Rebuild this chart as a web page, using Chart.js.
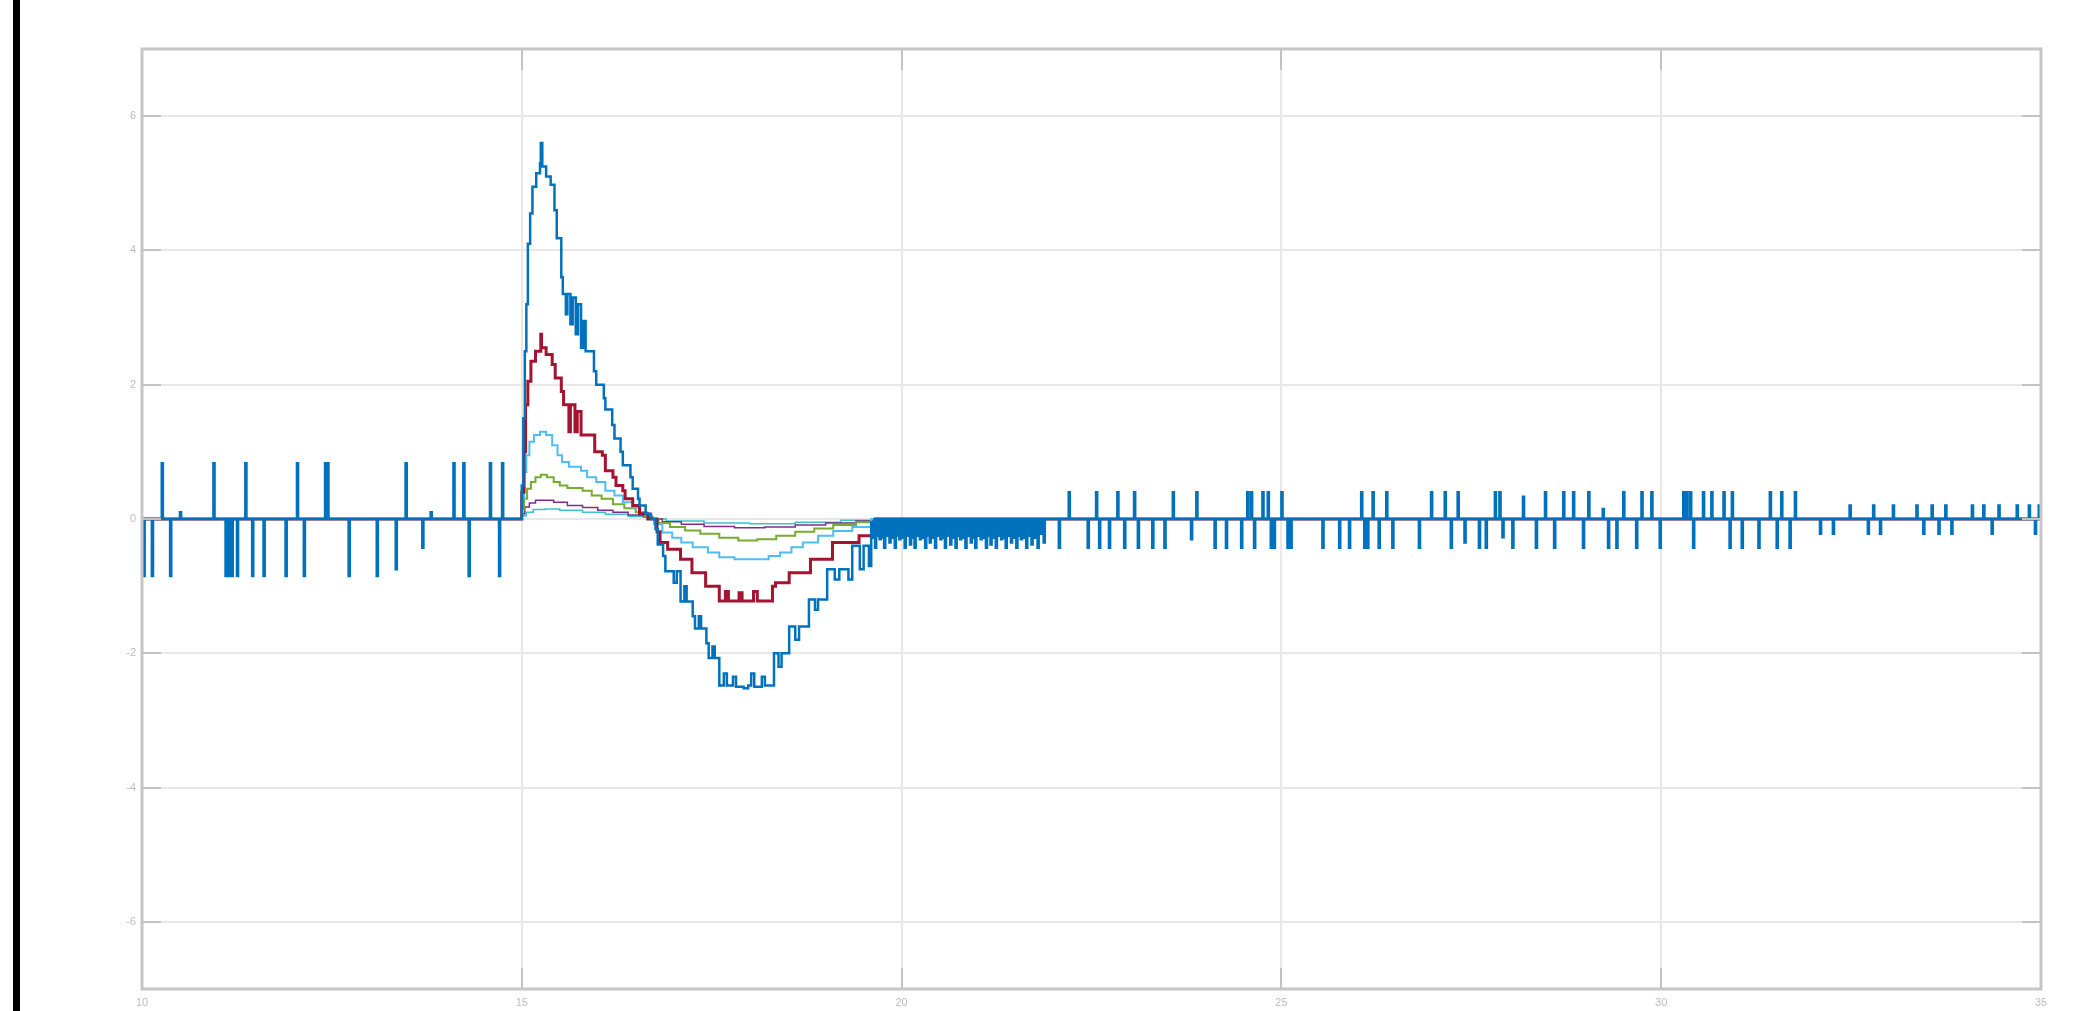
<!DOCTYPE html>
<html>
<head>
<meta charset="utf-8">
<title>Pulse response</title>
<script src="https://cdn.jsdelivr.net/npm/chart.js@4.4.1/dist/chart.umd.min.js"></script>
<style>
  html, body { margin: 0; padding: 0; background: #ffffff; overflow: hidden; }
  #wrap { position: relative; width: 2081px; height: 1011px; }
  #plot { position: absolute; left: 0; top: 0; }
  #edge { position: absolute; left: 13px; top: 0; width: 7px; height: 1011px; background: #000; }
</style>
</head>
<body>
<div id="wrap">
  <canvas id="plot" width="2081" height="1011"></canvas>
  <div id="edge"></div>
</div>
<script>
// Axis ticks
const xTickValues = [10, 15, 20, 25, 30, 35];
const yTickValues = [-6, -4, -2, 0, 2, 4, 6];

// Main response (stepped samples, [time, value])
const bluePulse = [
  [15.00, 0.5], [15.02, 1.5], [15.04, 2.5], [15.06, 3.2], [15.08, 4.1], [15.11, 4.55],
  [15.14, 4.95], [15.19, 5.15], [15.24, 5.3], [15.25, 5.6], [15.27, 5.25], [15.32, 5.1],
  [15.38, 4.98], [15.43, 4.6], [15.46, 4.18], [15.52, 3.6], [15.54, 3.35], [15.58, 3.05],
  [15.60, 3.35], [15.64, 2.9], [15.67, 3.3], [15.71, 2.75], [15.74, 3.2], [15.78, 2.55],
  [15.81, 2.95], [15.84, 2.5], [15.95, 2.2], [15.98, 2.0], [16.08, 1.8], [16.10, 1.63],
  [16.19, 1.4], [16.22, 1.2], [16.30, 1.0], [16.33, 0.8], [16.43, 0.62], [16.46, 0.45],
  [16.53, 0.3], [16.55, 0.2], [16.63, 0.08], [16.70, 0.0], [16.76, -0.15], [16.79, -0.38],
  [16.86, -0.55], [16.89, -0.78], [17.00, -0.95], [17.04, -0.78], [17.09, -1.23], [17.14, -1.0],
  [17.17, -1.23], [17.25, -1.45], [17.28, -1.63], [17.33, -1.45], [17.36, -1.63], [17.43, -1.85],
  [17.46, -2.07], [17.51, -1.9], [17.54, -2.07], [17.60, -2.48], [17.66, -2.3], [17.70, -2.48],
  [17.78, -2.35], [17.82, -2.5], [17.92, -2.52], [17.98, -2.48], [18.02, -2.3], [18.06, -2.5],
  [18.16, -2.35], [18.20, -2.48], [18.32, -2.0], [18.38, -2.2], [18.42, -2.0], [18.52, -1.6],
  [18.60, -1.8], [18.65, -1.6], [18.78, -1.2], [18.86, -1.35], [18.90, -1.2], [19.02, -0.75],
  [19.12, -0.9], [19.18, -0.75], [19.30, -0.9], [19.35, -0.4], [19.45, -0.75], [19.50, -0.4],
  [19.57, -0.7], [19.60, -0.05]
];

// Sensor glitches on the main response ([time, height])
const blueSpikes = [
  [10.02, -0.85], [10.13, -0.85], [10.26, 0.83], [10.37, -0.85], [10.50, 0.1], [10.94, 0.83],
  [11.10, -0.85], [11.14, -0.85], [11.18, -0.85], [11.25, -0.85], [11.36, 0.83], [11.45, -0.85],
  [11.60, -0.85], [11.89, -0.85], [12.04, 0.83], [12.13, -0.85], [12.41, 0.83], [12.44, 0.83],
  [12.72, -0.85], [13.09, -0.85], [13.34, -0.75], [13.47, 0.83], [13.69, -0.43], [13.80, 0.1],
  [14.10, 0.83], [14.23, 0.83], [14.30, -0.85], [14.58, 0.83], [14.70, -0.85], [14.74, 0.83],
  [19.63, -0.28], [19.65, -0.43], [19.68, -0.25], [19.71, -0.3], [19.74, -0.28], [19.77, -0.43],
  [19.80, -0.25], [19.84, -0.35], [19.87, -0.28], [19.91, -0.43], [19.94, -0.25], [19.97, -0.3],
  [20.01, -0.28], [20.04, -0.43], [20.07, -0.25], [20.11, -0.38], [20.14, -0.28], [20.17, -0.43],
  [20.21, -0.25], [20.24, -0.3], [20.27, -0.28], [20.31, -0.43], [20.34, -0.25], [20.37, -0.35],
  [20.41, -0.28], [20.44, -0.43], [20.47, -0.25], [20.51, -0.3], [20.54, -0.28], [20.57, -0.43],
  [20.61, -0.25], [20.64, -0.38], [20.67, -0.28], [20.71, -0.43], [20.74, -0.25], [20.77, -0.3],
  [20.81, -0.28], [20.84, -0.43], [20.87, -0.25], [20.91, -0.35], [20.94, -0.28], [20.97, -0.43],
  [21.01, -0.25], [21.04, -0.3], [21.07, -0.28], [21.11, -0.43], [21.14, -0.25], [21.17, -0.38],
  [21.21, -0.28], [21.24, -0.43], [21.27, -0.25], [21.31, -0.3], [21.34, -0.28], [21.37, -0.43],
  [21.41, -0.25], [21.44, -0.35], [21.47, -0.28], [21.51, -0.43], [21.54, -0.25], [21.57, -0.3],
  [21.61, -0.28], [21.64, -0.43], [21.68, -0.25], [21.71, -0.38], [21.75, -0.28], [21.79, -0.43],
  [21.83, -0.22], [21.87, -0.35],
  [22.07, -0.43], [22.20, 0.4], [22.45, -0.43], [22.56, 0.4], [22.60, -0.43], [22.73, -0.43],
  [22.84, 0.4], [22.93, -0.43], [23.06, 0.4], [23.11, -0.43], [23.30, -0.43], [23.46, -0.43],
  [23.57, 0.4], [23.81, -0.3], [23.88, 0.4], [24.12, -0.43], [24.27, -0.43], [24.47, -0.43],
  [24.55, 0.4], [24.60, 0.4], [24.64, -0.43], [24.75, 0.4], [24.82, 0.4], [24.86, -0.43],
  [24.90, -0.43], [25.00, 0.4], [25.08, -0.43], [25.12, -0.43], [25.54, -0.43], [25.76, -0.43],
  [25.89, -0.43], [26.05, 0.4], [26.09, -0.43], [26.13, -0.43], [26.20, 0.4], [26.28, -0.43],
  [26.38, 0.4], [26.46, -0.43], [26.81, -0.43], [26.97, 0.4], [27.15, 0.4], [27.23, -0.43],
  [27.32, 0.4], [27.41, -0.35], [27.60, -0.43], [27.69, -0.43], [27.81, 0.4], [27.87, 0.4],
  [27.91, -0.27], [28.04, -0.43], [28.18, 0.33], [28.35, -0.43], [28.47, 0.4], [28.59, -0.43],
  [28.71, 0.4], [28.84, 0.4], [28.97, -0.43], [29.04, 0.4], [29.23, 0.15], [29.30, -0.43],
  [29.41, -0.43], [29.50, 0.4], [29.67, -0.43], [29.74, 0.4], [29.87, 0.4], [29.98, -0.43],
  [30.29, 0.4], [30.33, 0.4], [30.38, 0.4], [30.42, -0.43], [30.55, 0.4], [30.66, 0.4],
  [30.82, 0.4], [30.90, -0.43], [30.93, 0.4], [31.06, -0.43], [31.28, -0.43], [31.43, 0.4],
  [31.52, -0.43], [31.58, 0.4], [31.69, -0.43], [31.76, 0.4],
  [32.09, -0.22], [32.26, -0.22], [32.48, 0.2], [32.72, -0.22], [32.79, 0.2], [32.88, -0.22],
  [33.05, 0.2], [33.36, 0.2], [33.45, -0.22], [33.56, 0.2], [33.65, -0.22], [33.74, 0.2],
  [33.82, -0.22], [34.09, 0.2], [34.24, 0.2], [34.35, -0.22], [34.44, 0.2], [34.68, 0.2],
  [34.84, 0.2], [34.92, -0.22], [34.97, 0.2]
];

// Scaled responses
const redPulse = [
  [15.00, 0.4], [15.03, 1.0], [15.05, 1.7], [15.08, 2.05], [15.12, 2.35], [15.18, 2.5],
  [15.25, 2.75], [15.26, 2.55], [15.32, 2.45], [15.40, 2.3], [15.44, 2.1], [15.52, 1.9],
  [15.55, 1.7], [15.62, 1.3], [15.64, 1.7], [15.70, 1.3], [15.73, 1.6], [15.78, 1.25],
  [15.86, 1.25], [15.96, 1.0], [16.06, 0.95], [16.10, 0.72], [16.20, 0.62], [16.24, 0.5],
  [16.33, 0.42], [16.36, 0.3], [16.46, 0.2], [16.55, 0.08], [16.66, 0.0],
  [16.78, -0.19], [16.82, -0.35], [16.92, -0.45], [17.09, -0.6], [17.24, -0.8], [17.42, -1.0],
  [17.60, -1.22], [17.68, -1.08], [17.72, -1.22], [17.86, -1.1], [17.90, -1.22], [18.05, -1.08],
  [18.10, -1.22], [18.30, -1.0], [18.34, -0.95], [18.52, -0.8], [18.80, -0.6], [19.09, -0.35],
  [19.44, -0.25], [19.66, 0.0]
];
const lightBluePulse = [
  [15.00, 0.3], [15.03, 0.7], [15.06, 0.95], [15.10, 1.15], [15.16, 1.25], [15.24, 1.3],
  [15.32, 1.25], [15.40, 1.1], [15.47, 0.95], [15.53, 0.85], [15.62, 0.78], [15.78, 0.72],
  [15.86, 0.62], [15.98, 0.55], [16.10, 0.42], [16.22, 0.35], [16.33, 0.25], [16.46, 0.17],
  [16.55, 0.1], [16.65, 0.0],
  [16.74, -0.08], [16.85, -0.2], [16.98, -0.28], [17.10, -0.35], [17.25, -0.42], [17.45, -0.5],
  [17.60, -0.57], [17.80, -0.6], [18.05, -0.6], [18.25, -0.55], [18.40, -0.5], [18.55, -0.42],
  [18.70, -0.35], [18.90, -0.25], [19.10, -0.18], [19.35, -0.12], [19.60, 0.0]
];
const greenPulse = [
  [15.00, 0.15], [15.03, 0.3], [15.07, 0.45], [15.12, 0.55], [15.18, 0.62], [15.25, 0.66],
  [15.33, 0.62], [15.42, 0.55], [15.50, 0.5], [15.60, 0.46], [15.80, 0.42], [15.92, 0.35],
  [16.05, 0.3], [16.20, 0.22], [16.35, 0.16], [16.50, 0.1], [16.62, 0.04], [16.72, 0.0],
  [16.80, -0.06], [16.95, -0.12], [17.15, -0.17], [17.35, -0.22], [17.60, -0.28], [17.85, -0.32],
  [18.10, -0.3], [18.35, -0.25], [18.60, -0.19], [18.85, -0.14], [19.10, -0.09], [19.40, -0.05],
  [19.65, 0.0]
];
const purplePulse = [
  [15.00, 0.08], [15.04, 0.18], [15.10, 0.24], [15.18, 0.28], [15.30, 0.28], [15.42, 0.25],
  [15.60, 0.2], [15.80, 0.17], [16.00, 0.13], [16.20, 0.1], [16.40, 0.06], [16.60, 0.03],
  [16.72, 0.0],
  [16.85, -0.04], [17.10, -0.08], [17.40, -0.11], [17.80, -0.13], [18.20, -0.12], [18.60, -0.09],
  [19.00, -0.06], [19.40, -0.03], [19.65, 0.0]
];
const tealPulse = [
  [15.00, 0.05], [15.06, 0.1], [15.15, 0.14], [15.30, 0.15], [15.50, 0.13], [15.80, 0.1],
  [16.10, 0.07], [16.40, 0.04], [16.70, 0.0],
  [16.90, -0.03], [17.40, -0.06], [18.00, -0.07], [18.60, -0.05], [19.20, -0.02], [19.65, 0.0]
];

const X_MIN = 10, X_MAX = 35;
const SPIKE_WIDTH = 0.015;

// Each trace sits on zero across the whole window
function trace(pairs) {
  return [[X_MIN, 0], ...pairs, [X_MAX, 0]].map(([x, y]) => ({ x, y }));
}

// Glitches become narrow rectangular pulses merged into the main trace
function withSpikes(pairs, spikes) {
  const pts = pairs.slice();
  spikes.forEach(([x, h]) => { pts.push([x, h]); pts.push([x + SPIKE_WIDTH, 0]); });
  pts.sort((a, b) => a[0] - b[0]);
  return trace(pts);
}

function series(data, color, width) {
  return {
    data, borderColor: color, backgroundColor: color, borderWidth: width,
    pointRadius: 0, stepped: true, fill: false, tension: 0
  };
}

// MATLAB-style box with inward ticks
const boxPlugin = {
  id: 'box',
  afterDatasetsDraw(chart) {
    const { ctx, chartArea: a, scales: { x, y } } = chart;
    ctx.save();
    ctx.strokeStyle = '#c2c2c2';
    ctx.lineWidth = 2;
    ctx.beginPath();
    xTickValues.forEach(v => {
      const px = Math.round(x.getPixelForValue(v));
      ctx.moveTo(px, a.bottom); ctx.lineTo(px, a.bottom - 21);
      ctx.moveTo(px, a.top); ctx.lineTo(px, a.top + 21);
    });
    yTickValues.forEach(v => {
      const py = Math.round(y.getPixelForValue(v));
      ctx.moveTo(a.left, py); ctx.lineTo(a.left + 19, py);
      ctx.moveTo(a.right, py); ctx.lineTo(a.right - 19, py);
    });
    ctx.stroke();
    ctx.lineWidth = 3;
    ctx.strokeStyle = '#c6c6c6';
    ctx.strokeRect(a.left, a.top, a.right - a.left, a.bottom - a.top);
    ctx.restore();
  }
};

const tickFont = { family: 'Liberation Sans', size: 11 };

new Chart(document.getElementById('plot').getContext('2d'), {
  type: 'line',
  data: {
    datasets: [
      series(withSpikes(bluePulse, blueSpikes), '#0072BD', 2.5),
      series(trace(redPulse), '#A2142F', 3),
      series(trace(lightBluePulse), '#4DBEEE', 2),
      series(trace(greenPulse), '#77AC30', 2),
      series(trace(purplePulse), '#7E2F8E', 1.5),
      series(trace(tealPulse), '#3CC3C8', 1.5)
    ]
  },
  options: {
    responsive: false,
    animation: false,
    devicePixelRatio: 1,
    events: [],
    layout: { padding: { left: 102, top: 49, right: 40, bottom: 0 } },
    plugins: { legend: { display: false }, tooltip: { enabled: false }, title: { display: false } },
    scales: {
      x: {
        type: 'linear', min: X_MIN, max: X_MAX,
        afterBuildTicks: axis => { axis.ticks = xTickValues.map(v => ({ value: v })); },
        afterFit: axis => { axis.height = 22; },
        grid: { color: '#e8e8e8', lineWidth: 2, drawTicks: false },
        border: { display: false },
        ticks: { color: '#bcbcbc', font: tickFont, padding: 7, maxRotation: 0, autoSkip: false }
      },
      y: {
        type: 'linear', min: -7, max: 7,
        afterBuildTicks: axis => { axis.ticks = yTickValues.map(v => ({ value: v })); },
        afterFit: axis => { axis.width = 40; },
        grid: { color: '#e8e8e8', lineWidth: 2, drawTicks: false },
        border: { display: false },
        ticks: { color: '#bcbcbc', font: tickFont, padding: 6, autoSkip: false }
      }
    }
  },
  plugins: [boxPlugin]
});
</script>
</body>
</html>
